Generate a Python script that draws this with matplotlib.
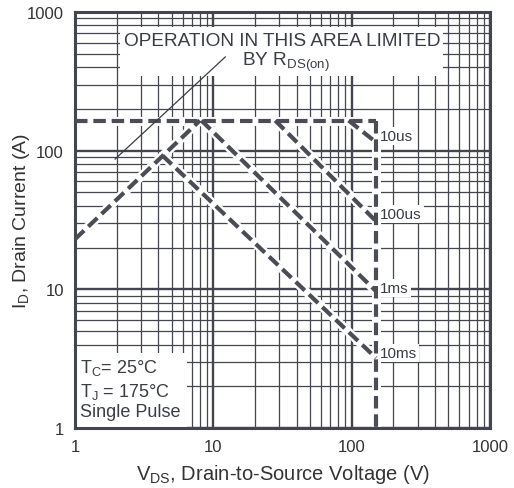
import matplotlib
matplotlib.use("Agg")
import matplotlib.pyplot as plt
from matplotlib.patches import Rectangle
import numpy as np

plt.rcParams['font.family'] = ['Liberation Sans', 'DejaVu Sans']

# --- data ---
limit_v = [1, 150]
limit_i = [165, 165]
vmax_v = [150, 150]
vmax_i = [165, 1]
rds_v = [1, 8]
rds_i = [23, 165]
us10_v = [95, 150]
us10_i = [165, 115]
us100_v = [28, 150]
us100_i = [165, 31]
ms1_v = [8.2, 150]
ms1_i = [165, 9.7]
ms10_v = [4.3, 150]
ms10_i = [92, 3.2]
pulse_labels = ["10us", "100us", "1ms", "10ms"]
label_i = [128, 35, 10.2, 3.47]
x_ticks = [1, 10, 100, 1000]
y_ticks = [1, 10, 100, 1000]

gc = '#43454f'
lc = '#4a4c56'
tc = '#3a3c46'

fig = plt.figure(figsize=(5.14, 4.89), dpi=100)
ax = fig.add_axes([75/514, 1-429/489, 415/514, 416/489])
ax.set_xscale('log')
ax.set_yscale('log')
ax.set_xlim(1, 1000)
ax.set_ylim(1, 1000)

# grid
ax.grid(True, which='major', color=gc, lw=1.7, zorder=0)
ax.grid(True, which='minor', color=gc, lw=0.9, zorder=0)
ax.set_axisbelow(True)
ax.tick_params(which='both', length=0, labelsize=12, colors='#333333', pad=8)
ax.set_xticks(x_ticks)
ax.set_xticklabels([str(v) for v in x_ticks])
ax.set_yticks(y_ticks)
ax.set_yticklabels([str(v) for v in y_ticks])
for s in ax.spines.values():
    s.set_linewidth(2.2)
    s.set_color(gc)

# white mask behind the top annotation
ax.add_patch(Rectangle((2.1, 345), 458-2.1, 780-345, facecolor='white', edgecolor='none', zorder=1))
# white mask behind conditions box
ax.add_patch(Rectangle((1.0, 1.0), 6.5-1.0, 3.45-1.0, facecolor='white', edgecolor='none', zorder=1))

series = [(limit_v, limit_i), (vmax_v, vmax_i), (rds_v, rds_i), (us10_v, us10_i),
          (us100_v, us100_i), (ms1_v, ms1_i), (ms10_v, ms10_i)]
for v, i in series:
    ax.plot(v, i, color='white', lw=6.5, solid_capstyle='butt', zorder=2)
for v, i in series:
    ax.plot(v, i, color=lc, lw=3.0, dashes=(3.0, 1.4), zorder=3)

# annotation line
ax.plot([1.95, 12.2], [87, 474], color=tc, lw=0.9, zorder=4)

ax.text(31.4, 628, 'OPERATION IN THIS AREA LIMITED', ha='center', va='center',
        fontsize=13.7, color=tc, zorder=5)
ax.text(33.6, 440, r'BY R$_{\mathregular{DS(on)}}$', ha='center', va='center',
        fontsize=13.7, color=tc, zorder=5)

# pulse labels with white background
for lab, yi in zip(pulse_labels, label_i):
    ax.text(160, yi, lab, ha='left', va='center', fontsize=11, color=tc, zorder=5,
            bbox=dict(facecolor='white', edgecolor='none', pad=1.5))

ax.text(1.09, 2.75, r'T$_{\mathregular{C}}$= 25°C', fontsize=13, color=tc,
        ha='left', va='center', zorder=5)
ax.text(1.09, 1.85, r'T$_{\mathregular{J}}$ = 175°C', fontsize=13, color=tc,
        ha='left', va='center', zorder=5)
ax.text(1.09, 1.31, 'Single Pulse', fontsize=13, color=tc,
        ha='left', va='center', zorder=5)

ax.set_xlabel(r'V$_{\mathregular{DS}}$, Drain-to-Source Voltage (V)', fontsize=14.5, color='#333333', labelpad=6)
ax.set_ylabel(r'I$_{\mathregular{D}}$, Drain Current (A)', fontsize=14, color='#333333')
ax.yaxis.set_label_coords(-0.104, 0.5)

fig.savefig('out.png', dpi=100)
